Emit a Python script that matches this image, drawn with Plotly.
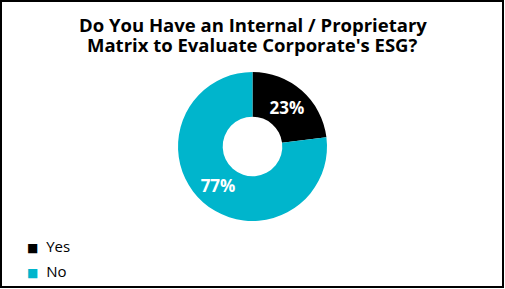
import plotly.graph_objects as go

labels = ["Yes", "No"]
values = [23, 77]
colors = ["#000000", "#00B5CC"]
title_lines = ["Do You Have an Internal / Proprietary", "Matrix to Evaluate Corporate's ESG?"]

W, H = 505, 289
cx, cy, r = 252.5, 146.5, 74.5
FONT = "Open Sans"

fig = go.Figure(go.Pie(
    labels=labels, values=values, hole=0.4, sort=False, direction="clockwise", rotation=0,
    marker=dict(colors=colors, line=dict(width=0)),
    textinfo="percent", textposition="inside", insidetextorientation="horizontal",
    textfont=dict(family=FONT, size=17, color="white", weight="bold"),
    domain=dict(x=[(cx - r) / W, (cx + r) / W], y=[(H - cy - r) / H, (H - cy + r) / H]),
    hoverinfo="label+percent", showlegend=False,
))

annotations = []
# title, two tightly spaced lines
for i, line in enumerate(title_lines):
    ypix = 25 + i * 19.5
    annotations.append(dict(text=line, xref="paper", yref="paper", x=0.5, y=1 - ypix / H,
                            xanchor="center", yanchor="middle", showarrow=False,
                            font=dict(family=FONT, size=18.5, color="black", weight="bold")))
# legend entries
for i, (lab, col) in enumerate(zip(labels, colors)):
    ypix = 245.5 + i * 25.7
    annotations.append(dict(
        text=f"<span style='color:{col};font-size:12px;font-family:DejaVu Sans'>■</span>\u00a0\u00a0{lab}",
        xref="paper", yref="paper", x=25 / W, y=1 - ypix / H,
        xanchor="left", yanchor="middle", showarrow=False,
        font=dict(family=FONT, size=15, color="black")))

fig.update_layout(
    width=W, height=H,
    margin=dict(l=0, r=0, t=0, b=0),
    paper_bgcolor="white", plot_bgcolor="white",
    showlegend=False,
    annotations=annotations,
    shapes=[dict(type="rect", xref="paper", yref="paper",
                 x0=1 / W, x1=(W - 2) / W, y0=2 / H, y1=(H - 1) / H,
                 line=dict(color="black", width=2))],
)

fig.write_html("out.html")
